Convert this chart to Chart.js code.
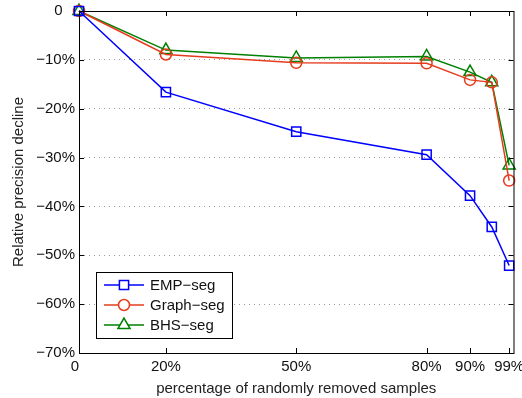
<!DOCTYPE html>
<html>
<head>
<meta charset="utf-8">
<script src="https://cdn.jsdelivr.net/npm/chart.js@4/dist/chart.umd.min.js"></script>
<style>
  html, body { margin: 0; padding: 0; background: #fff; }
  #wrap { width: 522px; height: 398px; position: relative; }
</style>
</head>
<body>
<div id="wrap"><canvas id="chart"></canvas></div>
<script>
// removed-sample percentages (x) and the precision decline of each method (%)
const removedPct = [0, 20, 50, 80, 90, 95, 99];
const empSeg = [0, -16.6, -24.7, -29.4, -37.8, -44.2, -52.1];
const graphSeg = [0, -8.9, -10.6, -10.7, -14.1, -14.6, -34.7];
const bhsSeg = [0, -8.0, -9.6, -9.3, -12.5, -14.6, -31.6];

const xTicks = [0, 20, 50, 80, 90, 99];
const yTicks = [0, -10, -20, -30, -40, -50, -60, -70];

const FONT = "'Liberation Sans', Arial, Helvetica, sans-serif";

const toPoints = (vals) => removedPct.map((x, i) => ({ x: x, y: vals[i] }));
const fmt = (v) => (v < 0 ? '\u2212' + Math.abs(v) : v) + '%';

const series = [
  { label: 'EMP\u2212seg', data: empSeg, color: 'rgb(0,0,255)', style: 'rect', r: 6.5 },
  { label: 'Graph\u2212seg', data: graphSeg, color: 'rgb(230,60,30)', style: 'circle', r: 5.5 },
  { label: 'BHS\u2212seg', data: bhsSeg, color: 'rgb(0,128,0)', style: 'triangle', r: 7 }
];

// box round the plot with inward ticks, and the legend in the lower left
const boxAndLegend = {
  id: 'boxAndLegend',
  afterDraw(chart) {
    const ctx = chart.ctx;
    const a = chart.chartArea;
    const xs = chart.scales.x, ys = chart.scales.y;
    ctx.save();
    ctx.strokeStyle = '#000';
    ctx.lineWidth = 1;
    ctx.strokeRect(a.left + 0.5, a.top + 0.5, a.right - a.left, a.bottom - a.top);
    ctx.beginPath();
    xTicks.forEach(t => {
      const px = Math.round(xs.getPixelForValue(t)) + 0.5;
      ctx.moveTo(px, a.bottom); ctx.lineTo(px, a.bottom - 5);
      ctx.moveTo(px, a.top); ctx.lineTo(px, a.top + 5);
    });
    yTicks.forEach(t => {
      const py = Math.round(ys.getPixelForValue(t)) + 0.5;
      ctx.moveTo(a.left, py); ctx.lineTo(a.left + 5, py);
      ctx.moveTo(a.right, py); ctx.lineTo(a.right - 5, py);
    });
    ctx.stroke();

    // legend
    const lx = 96, ly = 272, lw = 136, lh = 66;
    ctx.fillStyle = '#fff';
    ctx.fillRect(lx, ly, lw, lh);
    ctx.strokeStyle = '#000';
    ctx.strokeRect(lx + 0.5, ly + 0.5, lw, lh);
    ctx.font = '15px ' + FONT;
    ctx.textBaseline = 'middle';
    ctx.textAlign = 'left';
    series.forEach((s, i) => {
      const y = 285 + i * 20;
      ctx.strokeStyle = s.color;
      ctx.lineWidth = 1.5;
      ctx.beginPath();
      ctx.moveTo(104, y); ctx.lineTo(144, y);
      ctx.stroke();
      ctx.fillStyle = '#fff';
      Chart.helpers.drawPoint(ctx, { pointStyle: s.style, radius: s.r, borderWidth: 1.5, rotation: 0 }, 124, y);
      ctx.fillStyle = '#111';
      ctx.fillText(s.label, 150, y + 1);
    });
    ctx.restore();
  }
};

new Chart(document.getElementById('chart'), {
  type: 'line',
  data: {
    datasets: series.map(s => ({
      label: s.label,
      data: toPoints(s.data),
      borderColor: s.color,
      backgroundColor: 'rgba(0,0,0,0)',
      borderWidth: 1.5,
      pointStyle: s.style,
      pointRadius: s.r,
      pointBorderWidth: 1.5,
      pointBorderColor: s.color,
      pointBackgroundColor: 'rgba(0,0,0,0)',
      tension: 0,
      clip: false
    }))
  },
  options: {
    responsive: true,
    maintainAspectRatio: false,
    animation: false,
    layout: { padding: { top: 11, right: 8, left: 0, bottom: 0 } },
    plugins: { legend: { display: false }, tooltip: { enabled: false } },
    scales: {
      x: {
        type: 'linear',
        min: 0,
        max: 100,
        afterBuildTicks: (scale) => { scale.ticks = xTicks.map(v => ({ value: v })); },
        afterFit: (scale) => { scale.height = 45; scale.paddingLeft = 0; scale.paddingRight = 0; },
        grid: { display: false, drawTicks: false },
        border: { display: false },
        ticks: {
          color: '#111',
          font: { family: FONT, size: 15 },
          padding: 5,
          maxRotation: 0,
          autoSkip: false,
          callback: (v) => v === 0 ? '0  ' : fmt(v)
        },
        title: {
          display: true,
          text: 'percentage of randomly removed samples',
          color: '#222',
          font: { family: FONT, size: 15 },
          padding: { top: 6, bottom: 0 }
        }
      },
      y: {
        type: 'linear',
        min: -70,
        max: 0,
        afterBuildTicks: (scale) => { scale.ticks = yTicks.map(v => ({ value: v })); },
        afterFit: (scale) => { scale.width = 79; scale.paddingTop = 0; scale.paddingBottom = 0; },
        grid: {
          color: '#9a9a9a',
          lineWidth: 1,
          drawTicks: false
        },
        border: { display: false, dash: [1, 4] },
        ticks: {
          color: '#111',
          font: { family: FONT, size: 15 },
          padding: 4,
          autoSkip: false,
          callback: (v) => v === 0 ? '0   ' : fmt(v)
        },
        title: {
          display: true,
          text: 'Relative precision decline',
          color: '#222',
          font: { family: FONT, size: 15 },
          padding: { top: 10, bottom: 0 }
        }
      }
    }
  },
  plugins: [boxAndLegend]
});
</script>
</body>
</html>
